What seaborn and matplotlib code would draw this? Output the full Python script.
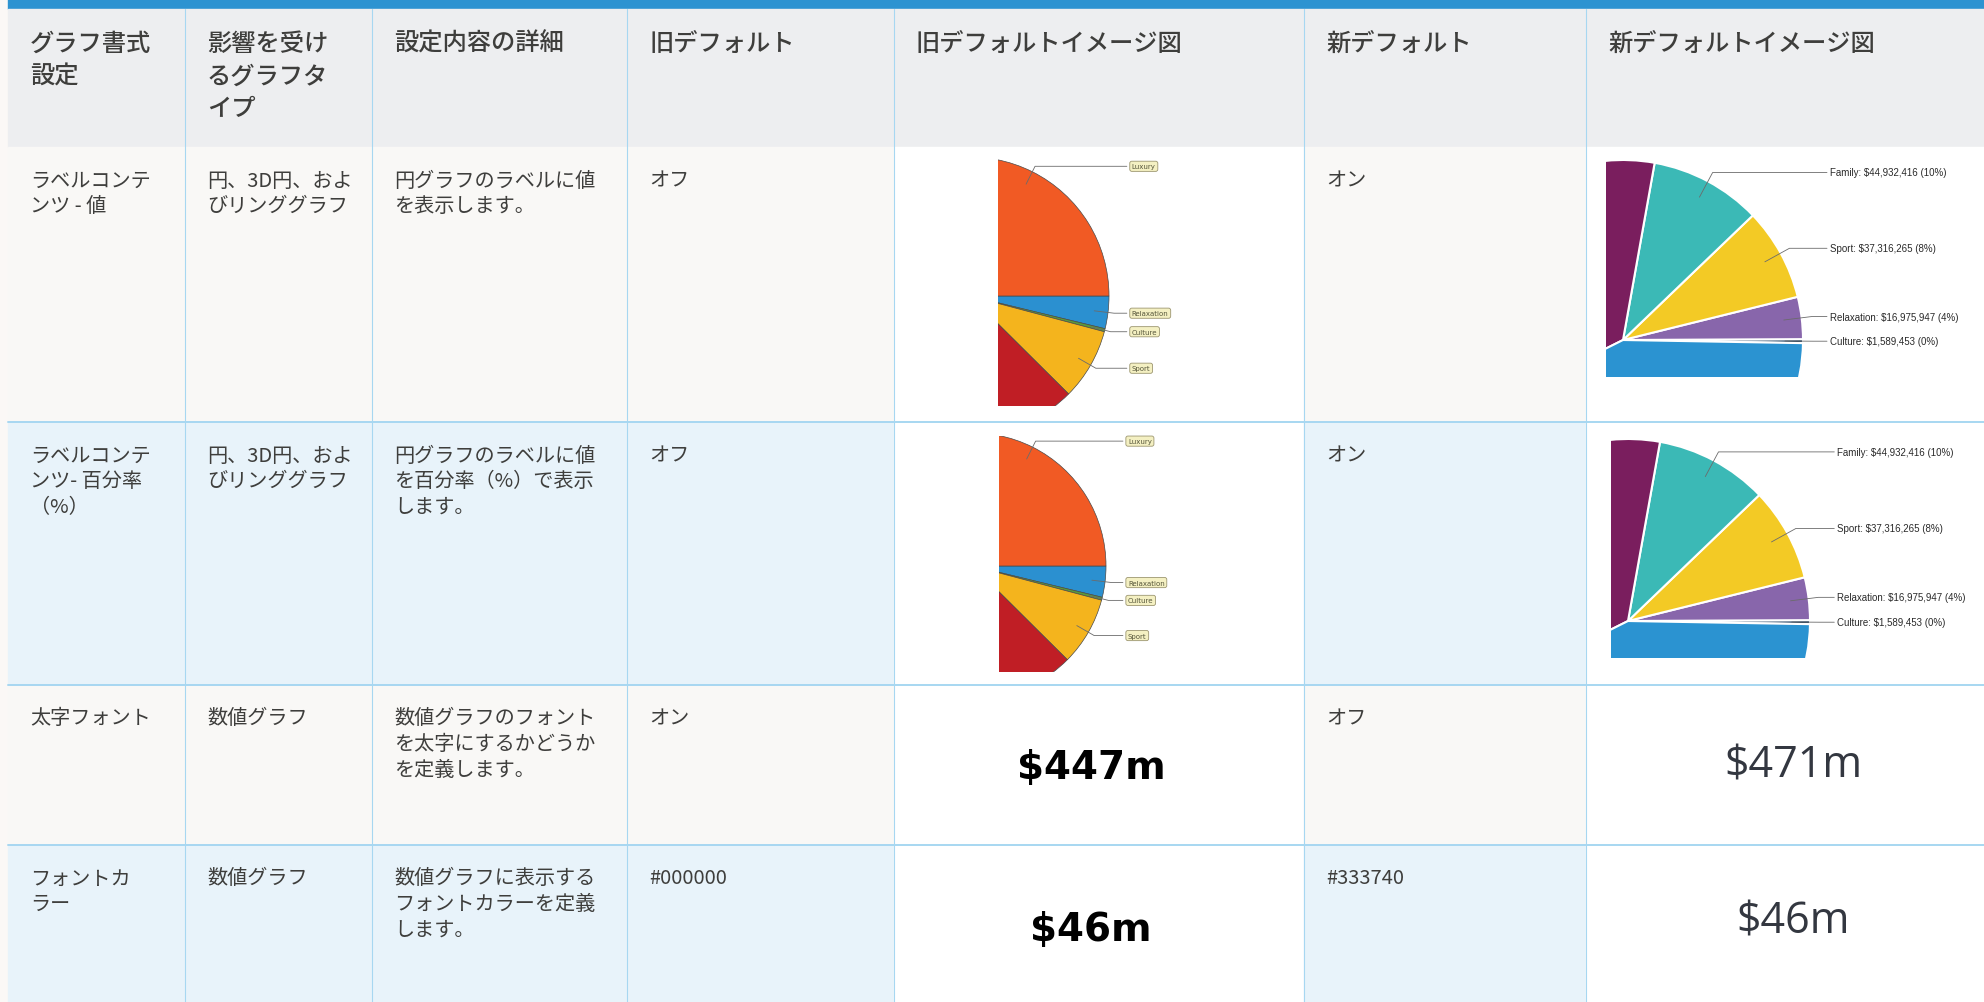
import matplotlib
matplotlib.use("Agg")
import matplotlib.pyplot as plt
import numpy as np
import seaborn as sns
from matplotlib import font_manager
from matplotlib.patches import Polygon, Rectangle

# ---- table text ----
headers = ["グラフ書式\n設定", "影響を受け\nるグラフタ\nイプ", "設定内容の詳細", "旧デフォルト",
           "旧デフォルトイメージ図", "新デフォルト", "新デフォルトイメージ図"]
settings = ["ラベルコンテ\nンツ - 値", "ラベルコンテ\nンツ- 百分率\n（%）", "太字フォント", "フォントカ\nラー"]
chart_types = ["円、3D円、およ\nびリンググラフ", "円、3D円、およ\nびリンググラフ", "数値グラフ", "数値グラフ"]
details = ["円グラフのラベルに値\nを表示します。",
           "円グラフのラベルに値\nを百分率（%）で表示\nします。",
           "数値グラフのフォント\nを太字にするかどうか\nを定義します。",
           "数値グラフに表示する\nフォントカラーを定義\nします。"]
old_defaults = ["オフ", "オフ", "オン", "#000000"]
new_defaults = ["オン", "オン", "オフ", "#333740"]

# ---- pie data (sample holiday revenue) ----
segments = ["Relaxation", "Culture", "Sport", "Family", "Adventure", "Luxury"]
revenue = [16975947, 1589453, 37316265, 44932416, 190000000, 158000000]
old_order = ["Relaxation", "Culture", "Sport", "Family", "Adventure", "Luxury"]
new_order = ["Culture", "Relaxation", "Sport", "Family", "Luxury", "Adventure"]
old_labels = ["Luxury", "Relaxation", "Culture", "Sport"]
new_labels = ["Family", "Sport", "Relaxation", "Culture"]
old_colors = {"Luxury": "#f15a24", "Relaxation": "#2b90d0", "Culture": "#5a9b3a",
              "Sport": "#f4b41d", "Family": "#c01e25", "Adventure": "#8a8a8a"}
new_colors = {"Luxury": "#7a1e5e", "Adventure": "#2b93d1", "Family": "#3bb9b6",
              "Sport": "#f3ca25", "Relaxation": "#8866ab", "Culture": "#1a3b5c"}

# ---- number chart samples ----
old_numbers = ["$447m", "$46m"]
new_numbers = ["$471m", "$46m"]

sns.set_theme(style="white")
plt.rcParams["font.family"] = ["Noto Sans CJK JP", "DejaVu Sans"]
available = {f.name for f in font_manager.fontManager.ttflist}
narrow = "Liberation Sans Narrow" if "Liberation Sans Narrow" in available else "Liberation Sans"
light = "Open Sans" if "Open Sans" in available else "DejaVu Sans"

W, H = 1984, 1003
fig = plt.figure(figsize=(W / 100, H / 100), dpi=100)
ax = fig.add_axes([0, 0, 1, 1])
ax.axis("off")

col_edges = [8, 185, 372, 627, 894, 1304, 1586, W]
row_edges = [148, 423, 686, 846, H]
text_color = "#3e3e3c"
line_color = "#a7d7f1"

# backgrounds
ax.add_patch(Rectangle((0, 0), W, H, color="#fbf8f6", zorder=0))
ax.add_patch(Rectangle((8, 0), W - 8, 10, color="#2d93d1", zorder=1))
ax.add_patch(Rectangle((8, 10), W - 8, row_edges[0] - 10, color="#edeef0", zorder=1))
for r in range(4):
    y0, y1 = row_edges[r], row_edges[r + 1]
    shade = "#f9f8f6" if r % 2 == 0 else "#e8f3fa"
    for c in range(7):
        fill = "white" if c in (4, 6) else shade
        ax.add_patch(Rectangle((col_edges[c], y0), col_edges[c + 1] - col_edges[c], y1 - y0,
                               color=fill, zorder=1))

# grid lines
for x in col_edges[1:-1]:
    ax.plot([x, x], [10, H], color=line_color, lw=0.8, zorder=2)
for y in row_edges[1:-1]:
    ax.plot([8, W], [y, y], color=line_color, lw=1.4, zorder=2)


def cell_text(col, y0, text, size, step, weight="normal"):
    for i, line in enumerate(text.split("\n")):
        ax.text(col_edges[col] + 22, y0 + i * step, line, fontsize=size, color=text_color,
                va="center", ha="left", fontweight=weight, zorder=3, parse_math=False)


for c, h in enumerate(headers):
    cell_text(c, 44, h, 17.5, 32.5, weight="medium")

for r in range(4):
    y0 = row_edges[r] + 33
    cell_text(0, y0, settings[r], 14.5, 25.7)
    cell_text(1, y0, chart_types[r], 14.5, 25.7)
    cell_text(2, y0, details[r], 14.5, 25.7)
    cell_text(3, y0, old_defaults[r], 14.5, 25.7)
    cell_text(5, y0, new_defaults[r], 14.5, 25.7)


def draw_pie(order, colors, center, radius, crop, counterclock, startangle, edge, lw):
    vals = [revenue[segments.index(n)] for n in order]
    wedges, _ = ax.pie(vals, colors=[colors[n] for n in order], center=center, radius=radius,
                       counterclock=counterclock, startangle=startangle, frame=True,
                       wedgeprops=dict(edgecolor=edge, linewidth=lw))
    # the pictures in the table are cropped screenshots
    x0, y0, w, h = crop
    box = Polygon([(x0, y0), (x0 + w, y0), (x0 + w, y0 + h), (x0, y0 + h)], closed=True,
                  transform=ax.transData)
    for wd in wedges:
        wd.set_clip_on(True)
        wd.set_clip_path(box)
        wd.set_zorder(3)
    return dict(zip(order, wedges))


def leader(w, center, radius, step, text_x):
    a = np.deg2rad((w.theta1 + w.theta2) / 2)
    u = np.array([np.cos(a), np.sin(a)])
    p0 = np.array(center) + 0.9 * radius * u
    p1 = p0 + step * u
    ax.plot([p0[0], p1[0], text_x - 3], [p0[1], p1[1], p1[1]], color="#6b6b6b", lw=0.6, zorder=4)
    return p1[1]


total = sum(revenue)
old_pies = [((970, 297), 139, (998, 160, 115, 247)), ((973, 567), 133, (999, 437, 112, 236))]
new_pies = [((1623, 341), 180, (1606, 162, 200, 216)), ((1628, 622), 182, (1611, 441, 202, 218))]

for center, radius, crop in old_pies:
    wd = draw_pie(old_order, old_colors, center, radius, crop, True, 0, "#4a4a4a", 0.5)
    tx = center[0] + 1.15 * radius
    for name in old_labels:
        y = leader(wd[name], center, radius, 20, tx)
        ax.text(tx + 2, y, name, fontsize=5, color="#55553a", va="center", ha="left", zorder=5,
                family="DejaVu Sans",
                bbox=dict(boxstyle="round,pad=0.3,rounding_size=0.3", fc="#f4f0c2", ec="#9c9670", lw=0.6))

for center, radius, crop in new_pies:
    wd = draw_pie(new_order, new_colors, center, radius, crop, False, 1, "white", 1.5)
    tx = center[0] + 1.15 * radius
    for name in new_labels:
        v = revenue[segments.index(name)]
        y = leader(wd[name], center, radius, 28, tx)
        ax.text(tx, y, f"{name}: ${v:,} ({round(v / total * 100)}%)", fontsize=7, color="#2a2a2a",
                va="center", ha="left", family=narrow, zorder=5, parse_math=False)

# number charts
for r, (old_n, new_n) in enumerate(zip(old_numbers, new_numbers)):
    y0 = row_edges[2 + r]
    ax.text(1091, y0 + 82 + 2 * r, old_n, fontsize=28, fontweight="bold", color="black",
            family="DejaVu Sans", ha="center", va="center", zorder=3, parse_math=False)
    ax.text(1793, y0 + 80 - 4 * r, new_n, fontsize=31, fontweight="normal", color="#333740",
            family=light, ha="center", va="center", zorder=3, parse_math=False)

ax.set_aspect("auto")
ax.set_xlim(0, W)
ax.set_ylim(H, 0)
fig.savefig("out.png", dpi=100)
